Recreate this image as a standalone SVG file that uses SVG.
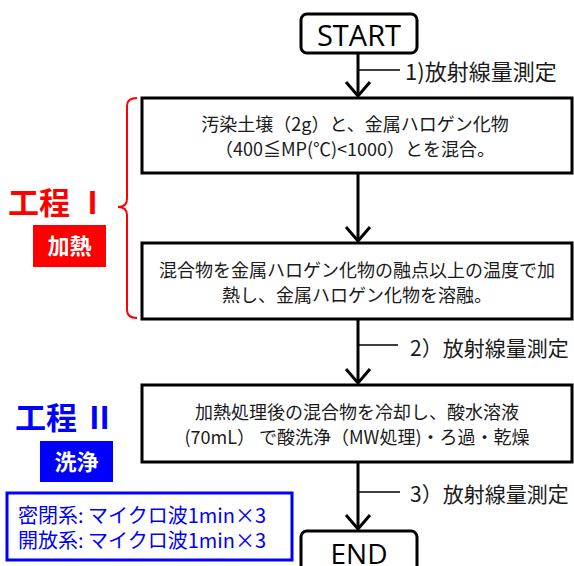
<svg xmlns="http://www.w3.org/2000/svg" width="574" height="566" viewBox="0 0 574 566">
<defs>
<style>
.box{fill:#fff;stroke:#000;stroke-width:3}
.term{fill:#fff;stroke:#000;stroke-width:3}
.jp{font-family:"Noto Sans CJK JP","Noto Sans",sans-serif;fill:#1a1a1a}
.bt{font-size:18px;text-anchor:middle}
.lab{font-size:21px}
.termt{font-family:"Open Sans","Noto Sans",sans-serif;font-size:29px;text-anchor:middle;fill:#000}
.flow{stroke:#000;stroke-width:3;fill:none}
.tick{stroke:#000;stroke-width:1.5;fill:none}
.head{font-family:"Noto Sans CJK JP",sans-serif;font-weight:bold;font-size:31px;text-anchor:middle}
.tag{font-family:"Noto Sans CJK JP",sans-serif;font-weight:bold;font-size:22px;fill:#fff;text-anchor:middle}
.cond{font-family:"Noto Sans CJK JP",sans-serif;font-size:20px;fill:#0000ff}
</style>
<marker id="arr" markerUnits="userSpaceOnUse" markerWidth="30" markerHeight="20" viewBox="0 0 30 20" refX="15" refY="17" orient="0">
<polyline points="3,3 15,17 27,3" fill="none" stroke="#000" stroke-width="3"/>
</marker>
</defs>

<g id="connectors">
<line class="flow" x1="358" y1="53" x2="358" y2="96" marker-end="url(#arr)"/>
<line class="tick" x1="358" y1="70" x2="400" y2="70"/>
<line class="flow" x1="358" y1="173" x2="358" y2="241" marker-end="url(#arr)"/>
<line class="flow" x1="358" y1="319" x2="358" y2="383" marker-end="url(#arr)"/>
<line class="tick" x1="358" y1="345" x2="398" y2="345"/>
<line class="flow" x1="358" y1="462" x2="358" y2="529" marker-end="url(#arr)"/>
<line class="tick" x1="358" y1="492" x2="400" y2="492"/>
</g>

<g id="label1"><text class="jp lab" x="405" y="80" font-size="22" style="font-size:22px">1)放射線量測定</text></g>
<g id="label2"><text class="jp lab" x="410" y="356">2）放射線量測定</text></g>
<g id="label3"><text class="jp lab" x="410" y="502">3）放射線量測定</text></g>

<g id="start">
<rect class="term" x="301" y="14" width="116" height="39" rx="6"/>
<text class="termt" x="359" y="46">START</text>
</g>

<g id="step1">
<rect class="box" x="142" y="98" width="430" height="75"/>
<text class="jp bt" x="355" y="131">汚染土壌（2g）と、金属ハロゲン化物</text>
<text class="jp bt" x="355" y="156">（400≦MP(℃)&lt;1000）とを混合。</text>
</g>

<g id="step2">
<rect class="box" x="142" y="243" width="430" height="76"/>
<text class="jp bt" x="357" y="277">混合物を金属ハロゲン化物の融点以上の温度で加</text>
<text class="jp bt" x="357" y="302">熱し、金属ハロゲン化物を溶融。</text>
</g>

<g id="step3">
<rect class="box" x="142" y="385" width="430" height="77"/>
<text class="jp bt" x="357" y="419">加熱処理後の混合物を冷却し、酸水溶液</text>
<text class="jp bt" x="357" y="444">(70mL） で酸洗浄（MW処理)・ろ過・乾燥</text>
</g>

<g id="end">
<rect class="term" x="301" y="531" width="116" height="50" rx="6"/>
<text class="termt" x="359" y="564" style="font-size:28px">END</text>
</g>

<g id="process1">
<path d="M137,98 Q127,98 127,106 L127,199 Q127,207 118,207 Q127,207 127,215 L127,310 Q127,318 137,318" fill="none" stroke="#ff0000" stroke-width="2"/>
<text class="head" x="58" y="214" fill="#ff0000">工程 Ⅰ</text>
<rect x="33" y="225" width="73" height="42" fill="#ff0000"/>
<text class="tag" x="69.5" y="254">加熱</text>
</g>

<g id="process2">
<text class="head" x="65" y="429" fill="#0000ff">工程 Ⅱ</text>
<rect x="40" y="441" width="73" height="41" fill="#0000ff"/>
<text class="tag" x="76.5" y="470">洗浄</text>
</g>

<g id="conditions">
<rect x="7" y="493" width="285" height="67" fill="none" stroke="#0000ff" stroke-width="3"/>
<text class="cond" x="18" y="523">密閉系: マイクロ波1min×3</text>
<text class="cond" x="18" y="548">開放系: マイクロ波1min×3</text>
</g>
</svg>
